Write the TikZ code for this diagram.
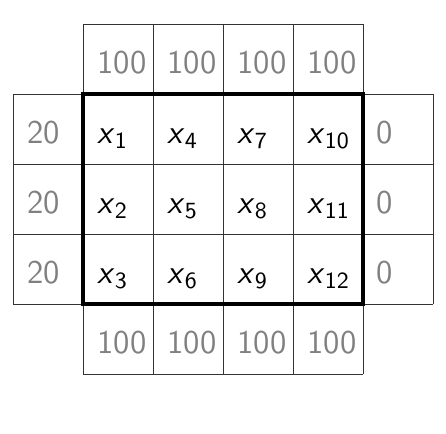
\documentclass[tikz,border=0pt]{standalone}
\renewcommand{\familydefault}{\sfdefault}
\newcommand{\xv}[1]{\textsl{x}\textsubscript{#1}}
\tikzset{
  val/.style={anchor=base west, inner sep=0pt, text=gray, font=\fontsize{13.5}{16}\selectfont},
  var/.style={anchor=base west, inner sep=0pt, font=\fontsize{13.5}{16}\selectfont}
}

\begin{document}
\begin{tikzpicture}
    \useasboundingbox (-0.186,-0.843) rectangle (6.185,5.343);

    \draw[line width=0.4pt, black!80] (1,0) grid (5,5);
    \draw[line width=0.4pt, black!80] (0,1) grid (1,4);
    \draw[line width=0.4pt, black!80] (5,1) grid (6,4);
    \draw[line width=1.6pt] (1,1) rectangle (5,4);

    % boundary values
    \node[val] (t1) at (1.2, 4.3) {100};
    \node[val] (t2) at (2.2, 4.3) {100};
    \node[val] (t3) at (3.2, 4.3) {100};
    \node[val] (t4) at (4.2, 4.3) {100};

    \node[val] (b1) at (1.2, 0.3) {100};
    \node[val] (b2) at (2.2, 0.3) {100};
    \node[val] (b3) at (3.2, 0.3) {100};
    \node[val] (b4) at (4.2, 0.3) {100};

    \node[val] (l1) at (0.2, 3.3) {20};
    \node[val] (l2) at (0.2, 2.3) {20};
    \node[val] (l3) at (0.2, 1.3) {20};

    \node[val] (r1) at (5.19, 3.3) {0};
    \node[val] (r2) at (5.19, 2.3) {0};
    \node[val] (r3) at (5.19, 1.3) {0};

    % unknowns
    \node[var] (x1) at (1.2, 3.3) {\xv{1}};
    \node[var] (x2) at (1.2, 2.3) {\xv{2}};
    \node[var] (x3) at (1.2, 1.3) {\xv{3}};
    \node[var] (x4) at (2.2, 3.3) {\xv{4}};
    \node[var] (x5) at (2.2, 2.3) {\xv{5}};
    \node[var] (x6) at (2.2, 1.3) {\xv{6}};
    \node[var] (x7) at (3.2, 3.3) {\xv{7}};
    \node[var] (x8) at (3.2, 2.3) {\xv{8}};
    \node[var] (x9) at (3.2, 1.3) {\xv{9}};
    \node[var] (x10) at (4.2, 3.3) {\xv{10}};
    \node[var] (x11) at (4.2, 2.3) {\xv{11}};
    \node[var] (x12) at (4.2, 1.3) {\xv{12}};
\end{tikzpicture}
\end{document}
